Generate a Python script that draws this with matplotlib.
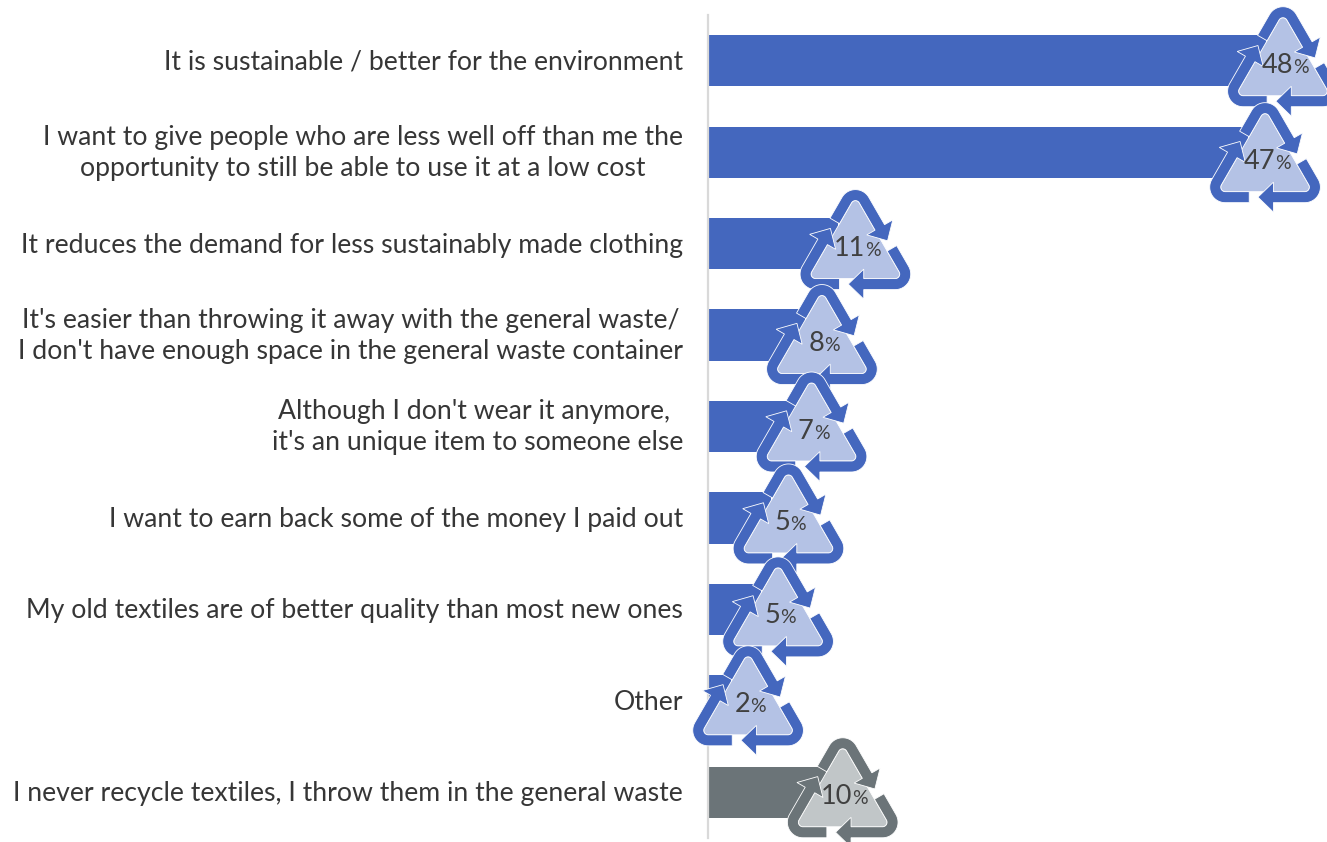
import numpy as np
import matplotlib
matplotlib.use("Agg")
import matplotlib.pyplot as plt
from matplotlib.patches import Polygon
from matplotlib.transforms import Affine2D, ScaledTranslation

plt.rcParams["font.family"] = ["Lato", "DejaVu Sans"]

categories = [
    "It is sustainable / better for the environment",
    "I want to give people who are less well off than me the\nopportunity to still be able to use it at a low cost",
    "It reduces the demand for less sustainably made clothing",
    "It's easier than throwing it away with the general waste/\nI don't have enough space in the general waste container",
    "Although I don't wear it anymore, \nit's an unique item to someone else",
    "I want to earn back some of the money I paid out",
    "My old textiles are of better quality than most new ones",
    "Other",
    "I never recycle textiles, I throw them in the general waste",
]
values = [48.35, 46.8, 11.3, 8.4, 7.5, 5.5, 4.6, 2.0, 10.2]
value_labels = ["48", "47", "11", "8", "7", "5", "5", "2", "10"]
bar_colours = ["#4467BE"] * 8 + ["#6B7478"]
fill_colours = ["#B4C2E5"] * 8 + ["#C1C6C8"]
# the icons do not all sit at the same height against their bars
icon_drop = [7.5, 12, 7.5, 11, 7, 7.5, 9, 6.5, 7]

# icon geometry, in pixels around the centre of the triangle
CORNER_DIST = 46
CORNER_R = 10
STROKE = 11
EDGE_HALF = 40
START_T = 16
HEAD_T = -8.5
TIP_T = 7
HEAD_HALF = 15


def rot(points, deg):
    a = np.radians(deg)
    m = np.array([[np.cos(a), -np.sin(a)], [np.sin(a), np.cos(a)]])
    return np.asarray(points) @ m.T


def unit(deg):
    return np.array([np.cos(np.radians(deg)), np.sin(np.radians(deg))])


def arrow_outline():
    # top arrow: up the left edge, over the apex, down the right edge
    apex = np.array([0, CORNER_DIST])
    angles = np.linspace(150, 30, 25)
    left_dir = unit(60)
    right_dir = unit(-60)

    def side(off):
        r = CORNER_R + off
        pts = [apex + unit(150) * r + left_dir * (START_T - EDGE_HALF)]
        pts += [apex + unit(a) * r for a in angles]
        pts += [apex + unit(30) * r + right_dir * (HEAD_T + EDGE_HALF)]
        return np.array(pts)

    base = apex + unit(30) * CORNER_R + right_dir * (HEAD_T + EDGE_HALF)
    tip = apex + unit(30) * CORNER_R + right_dir * (TIP_T + EDGE_HALF)
    head = [base + unit(30) * HEAD_HALF, tip, base - unit(30) * HEAD_HALF]
    return np.vstack([side(STROKE / 2), head, side(-STROKE / 2)[::-1]])


def inner_outline():
    pts = []
    for turn in (0, -120, -240):
        angles = np.linspace(150, 30, 13)
        corner = [np.array([0, CORNER_DIST]) + unit(a) * 4.5 for a in angles]
        pts.append(rot(corner, turn))
    return np.vstack(pts)


fig = plt.figure(figsize=(13.27, 8.42), dpi=100)
ax = fig.add_axes([708 / 1327, 1 - 838 / 842, 619 / 1327, 823 / 842])
y = np.arange(len(categories))
ax.barh(y, values, height=0.56, color=bar_colours, zorder=2)
ax.set_xlim(0, 53.64)
ax.set_ylim(8.5, -0.5)

ax.set_xticks([])
ax.set_yticks(y)
ax.set_yticklabels(categories, fontsize=19.2, color="#363636", linespacing=1.31)
ax.tick_params(axis="y", length=0, pad=18)
for lab in ax.get_yticklabels():
    lab.set_multialignment("center")
    # two line labels sit a bit higher than the tick
    lift = 5 if "\n" in lab.get_text() else 1
    lab.set_transform(lab.get_transform() + Affine2D().translate(0, lift))
for s in ["top", "right", "bottom"]:
    ax.spines[s].set_visible(False)
ax.spines["left"].set_color("#D9D9D9")
ax.spines["left"].set_linewidth(1.6)

renderer = fig.canvas.get_renderer()
arrow = arrow_outline()
inner = inner_outline()
for i in range(len(categories)):
    place = (
        Affine2D().translate(17, -icon_drop[i])
        + ScaledTranslation(values[i], y[i], ax.transData)
    )
    z = 3 + i
    ax.add_patch(
        Polygon(inner, closed=True, facecolor=fill_colours[i], edgecolor="white",
                linewidth=0.6, transform=place, clip_on=False, zorder=z)
    )
    for turn in (0, -120, -240):
        ax.add_patch(
            Polygon(rot(arrow, turn), closed=True, facecolor=bar_colours[i],
                    edgecolor="white", linewidth=0.6, transform=place,
                    clip_on=False, zorder=z)
        )
    num = ax.text(0, -5, value_labels[i], fontsize=19.5, color="#404040", ha="left",
                  va="baseline", transform=place, zorder=z + 0.5, clip_on=False)
    pct = ax.text(0, -5, "%", fontsize=14, color="#404040", ha="left",
                  va="baseline", transform=place, zorder=z + 0.5, clip_on=False)
    w1 = num.get_window_extent(renderer).width
    w2 = pct.get_window_extent(renderer).width
    left = 2 - (w1 + w2) / 2
    num.set_position((left, -5))
    pct.set_position((left + w1, -5))

fig.savefig("out.png", dpi=100, facecolor="white")
